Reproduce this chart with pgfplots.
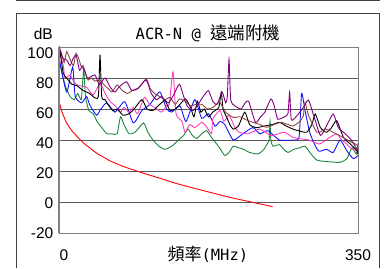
\documentclass[border=0pt]{standalone}
\usepackage{pgfplots}
\pgfplotsset{compat=1.18}
\usepackage{fontspec}
\setmainfont{Liberation Sans}
\newfontfamily\cjk{Noto Sans CJK TC}
\newfontfamily\mono{DejaVu Sans Mono}
\definecolor{cgreen}{RGB}{25,135,60}
\definecolor{cblue}{RGB}{20,20,255}
\definecolor{cpink}{RGB}{255,60,190}
\definecolor{cpurple}{RGB}{128,0,128}
\definecolor{cbrown}{RGB}{140,70,70}
\definecolor{cframe}{RGB}{64,64,64}
\begin{document}
\begin{tikzpicture}[x=1pt,y=1pt]
\useasboundingbox (0,0) rectangle (385,268);
\draw[cframe, line width=1pt] (16,268) -- (16,267) -- (379,267) -- (379,268);
\draw[cframe, line width=1pt] (16,0) -- (16,254) -- (379,254) -- (379,0);
\begin{axis}[
  name=ax,
  at={(59pt,35pt)}, anchor=south west,
  scale only axis, width=299pt, height=186pt,
  xmin=0, xmax=350, ymin=-20, ymax=100,
  xtick={0,350}, xticklabels={\hspace*{10pt}0,350},
  ytick={-20,0,20,40,60,80,100},
  yticklabels={-20,\raisebox{-1.1pt}{0},\raisebox{-2.2pt}{20},\raisebox{-3.3pt}{40},\raisebox{-4.4pt}{60},\raisebox{-5.4pt}{80},\raisebox{-6.5pt}{100}},
  major tick length=0pt,
  ymajorgrids, grid style={black!65, line width=0.8pt},
  axis line style={draw=black!50, line width=0.9pt},
  tick label style={font=\fontsize{15.5}{17}\selectfont},
  /pgf/number format/assume math mode=true,
  xticklabel style={anchor=base, yshift=-27pt},
  yticklabel style={anchor=base east, yshift=-5.5pt, xshift=-5.5pt, inner sep=0pt},
  every axis plot/.append style={line width=0.9pt, smooth, tension=0.35},
  clip mode=individual,
]
\addplot[cgreen] coordinates {
(0,93) (4,82) (8,74) (13,68) (18,66) (22,70) (26,66) (28,80) (29,86) (31,68) (35,59) (40,57) (44.5,52) (50,48) (56,44) (62,44) (68,44) (72,55) (76,50) (82,44) (89,45) (99,51) (104,45) (110,40) (117,36) (124,34) (132,36) (140,40) (146,43) (151,47) (156,43) (161,41) (167,44) (173,46) (178,42) (183,38.5) (188,35) (194,30) (199,32) (204,36) (210,35) (216,34) (223,32) (233,31) (240,34) (243,37) (246,40) (247,52) (248,40) (250.5,36) (258,37) (263,34) (268,32) (275,34) (282,35) (288,36) (295,31) (302,27) (315,26) (329,25.6) (337,28) (343,35) (348,31) (350,38)};
\addplot[cblue] coordinates {
(0,92) (1,90) (9,71) (16,87) (19,68) (26.5,64) (32.4,68) (36,62.6) (44,56) (49,60) (56,64) (65.5,58) (77,64.7) (87,51) (97,59) (106.5,63) (118,71) (126,60) (132,58) (141.6,62) (148.7,52) (159,66) (167,54) (175,57) (182.6,49) (188.5,52) (194,50) (204,40) (215,44) (227,48) (235,44) (244.6,46) (258,40) (274,40) (281,42) (284,70) (288,59) (294,44) (303.5,33) (313,34) (321,32) (329,40) (337,33) (344.5,28) (350,30)};
\addplot[cpink] coordinates {
(0,97) (1,96) (5,88) (7,80) (13,82) (17,78) (20,76) (24,75) (32.4,74) (40,69) (48,76.6) (54,70) (60,64.7) (66,62) (72,58) (76,61) (82,58) (87,61) (92,57) (100,67.5) (106,63) (112,61) (120,58) (126,62) (129,63) (133.5,84) (137,57) (144,52) (147.5,45) (153,50) (159,48) (167,51.4) (172,49) (178.7,44) (180,53.5) (188.5,59) (193,52) (199,56) (206,48) (211,45) (221,44) (234,47) (242,45) (248,42.8) (257,44) (264,45) (274,41.7) (285,40.6) (293,40) (305,37.4) (317,41.7) (325,43.9) (331,40) (337,37.4) (343,34) (349,33) (350,29)};
\addplot[black] coordinates {
(0,100) (1,98) (5,83) (9,80) (15,76) (21,75) (28,72) (36,70) (40,68) (46,68) (48,95) (50,68) (54,66) (56,64) (63,59) (68,60) (75,56) (82,57) (88,60) (97,66) (103,60) (110,59) (116,62) (124,65.4) (130,59) (136,60) (140,62) (148,66.5) (154,61) (158,55) (162,65) (166,58) (170,60) (175,55) (180,58) (187,61) (190,70.8) (192,60) (196,55) (200,50) (204,47) (210,49) (217.5,58) (223,50) (231,48) (240,49) (250,50) (258,51.4) (266,49) (274,47) (280,46) (290,45) (296,50) (300,56.8) (306,48) (313,45) (319,48) (325,52.5) (333,41.7) (341,37.4) (349,33) (350,31)};
\addplot[cbrown] coordinates {
(0,100) (3,96) (6,90) (9,97) (13,92) (17,88) (20,96) (24,91) (26,87.3) (30,85) (34,78.7) (38,80) (42,78) (48,78.7) (52,76) (56,74) (62,71) (68,75.5) (74,72) (80,70) (86,72) (94,74) (102,79.4) (107,73) (112,70) (118,68) (124,66) (130,67.5) (136,63) (141,66.5) (148,65) (154,62) (160,63) (167,63) (174,60) (180,61) (188,64.3) (195,58) (204,54.6) (212,55) (219,53) (227,51.4) (235,50) (243,48.2) (252,50) (260,51.4) (268,50) (274,49) (282,52) (286,55.7) (288,64.3) (292,56) (302,45) (312,47) (321,45) (328,43) (339,39.6) (345,38) (350,36.3)};
\addplot[cpurple] coordinates {
(0,101) (4,93) (9,91.6) (13,88) (16,92) (20,94.8) (24,85) (28,88) (33,80) (42,82) (47,76) (54,80) (60,74) (65.5,71) (70,74) (79,77.6) (85,72) (92,73) (102,78.7) (108,70) (114,66) (120,68) (128,64) (135,70) (141,76) (146,68) (150,62) (157,59) (164,64) (170,69) (175,71.8) (180,65) (185,63) (191,70.8) (195,64) (197,68) (199,92) (201,66) (206,62) (213,60) (218,64) (222,65) (230,51.4) (236,55) (241,58) (248,66.5) (252,62) (256,53.5) (264,55) (268,57) (270,71) (272,53) (279,56) (286,61) (292,65.8) (298,56) (306,43) (313,49) (321,56.8) (327,48) (335,44) (342,40) (350,33)};
\addplot[red, smooth] coordinates {
(1,63) (3,59) (5,56) (8,52) (10,50) (15,46) (20,43) (25,40) (30,37.5) (37,34.5) (44,31.5) (52,29) (60,26.5) (75,23) (91,20) (105,17.5) (120,15) (137,12) (154,9.5) (175,6.5) (200,3) (225,0) (250,-3)};
\draw[black!50, line width=2pt] (rel axis cs:0,0) -- (rel axis cs:0,1);
\end{axis}
\node[anchor=base, yshift=7pt, xshift=-0.5pt, inner sep=0pt] at (ax.north)
  {{\mono\fontsize{15.5}{17}\selectfont ACR-N @ }{\cjk\fontsize{17.5}{19}\selectfont 遠端附機}};
\node[anchor=base east, xshift=-6pt, yshift=7pt, inner sep=0pt] at (ax.north west)
  {\fontsize{15.5}{17}\selectfont dB};
\node[anchor=base, yshift=-27pt, xshift=-0.6pt, inner sep=0pt] at (ax.south)
  {{\cjk\fontsize{17}{19}\selectfont 頻率}{\mono\fontsize{15.5}{17}\selectfont (MHz)}};
\end{tikzpicture}
\end{document}
